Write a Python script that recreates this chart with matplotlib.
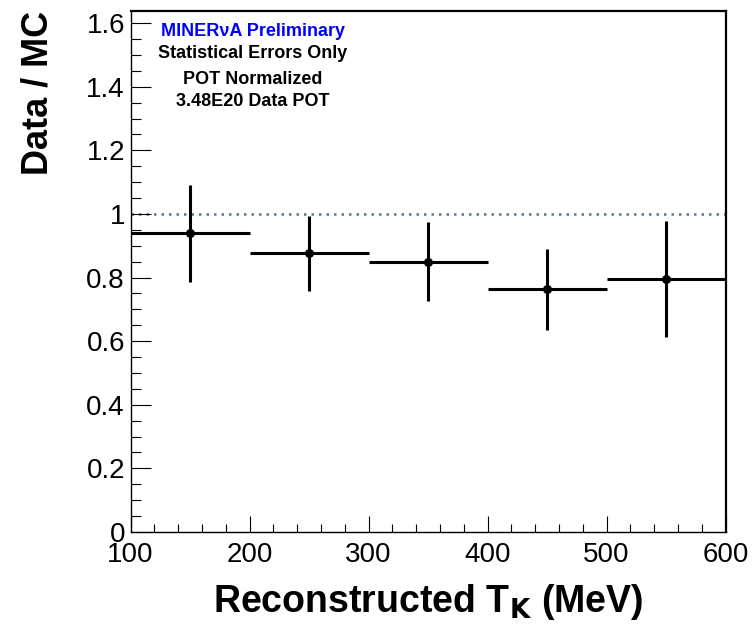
import matplotlib
matplotlib.use("Agg")
import matplotlib.pyplot as plt
from matplotlib.ticker import MultipleLocator

plt.rcParams['font.family'] = ['Liberation Sans', 'DejaVu Sans']

# Data/MC ratio per reconstructed kaon kinetic energy bin
bin_centers = [150, 250, 350, 450, 550]
bin_half_widths = [50, 50, 50, 50, 50]
ratio = [0.939, 0.876, 0.850, 0.763, 0.796]
ratio_err = [0.152, 0.117, 0.124, 0.127, 0.183]

annotations = ["MINERνA Preliminary", "Statistical Errors Only",
               "POT Normalized", "3.48E20 Data POT"]
annotation_colors = ["#0000ff", "black", "black", "black"]

fig = plt.figure(figsize=(7.56, 6.28), dpi=100)
ax = fig.add_axes([130.5 / 756, 96 / 628, 595 / 756, 521 / 628])

ax.set_xlim(100, 600)
ax.set_ylim(0, 1.638)

# Reference line at unity
ax.axhline(1.0, color='#5f7489', lw=1.8, ls=(0, (1, 2)), zorder=1)

ax.errorbar(bin_centers, ratio, xerr=bin_half_widths, yerr=ratio_err,
            fmt='o', color='black', ms=5.5, elinewidth=2.2, capsize=0, zorder=3)

ax.xaxis.set_major_locator(MultipleLocator(100))
ax.xaxis.set_minor_locator(MultipleLocator(20))
ax.yaxis.set_major_locator(MultipleLocator(0.2))
ax.yaxis.set_minor_locator(MultipleLocator(0.05))

ax.tick_params(axis='both', which='both', direction='in', top=False, right=False,
               labelsize=20, color='black')
ax.tick_params(axis='x', which='major', length=11.5, width=0.8, pad=7)
ax.tick_params(axis='x', which='minor', length=5.8, width=0.8)
ax.tick_params(axis='y', which='major', length=14.4, width=0.8, pad=4)
ax.tick_params(axis='y', which='minor', length=7.2, width=0.8)


def fmt_y(v, _):
    if abs(v) < 1e-9:
        return "0"
    if abs(v - round(v)) < 1e-9:
        return f"{int(round(v))}"
    return f"{v:.1f}"


ax.yaxis.set_major_formatter(plt.FuncFormatter(fmt_y))

for side in ['top', 'right']:
    ax.spines[side].set_linewidth(1.6)
for side in ['left', 'bottom']:
    ax.spines[side].set_linewidth(1.0)

ax.set_xlabel(r"Reconstructed T$_{\mathbf{K}}$ (MeV)", fontsize=27, fontweight='bold',
              labelpad=10)
ax.set_ylabel("Data / MC", fontsize=26, fontweight='bold', labelpad=22, loc='top')

y_positions = [32, 54, 80, 101]
for txt, col, yp in zip(annotations, annotation_colors, y_positions):
    fig.text(253 / 756, 1 - yp / 628, txt, color=col, fontsize=13,
             fontweight='bold', ha='center', va='center')

fig.savefig("out.png", dpi=100)
